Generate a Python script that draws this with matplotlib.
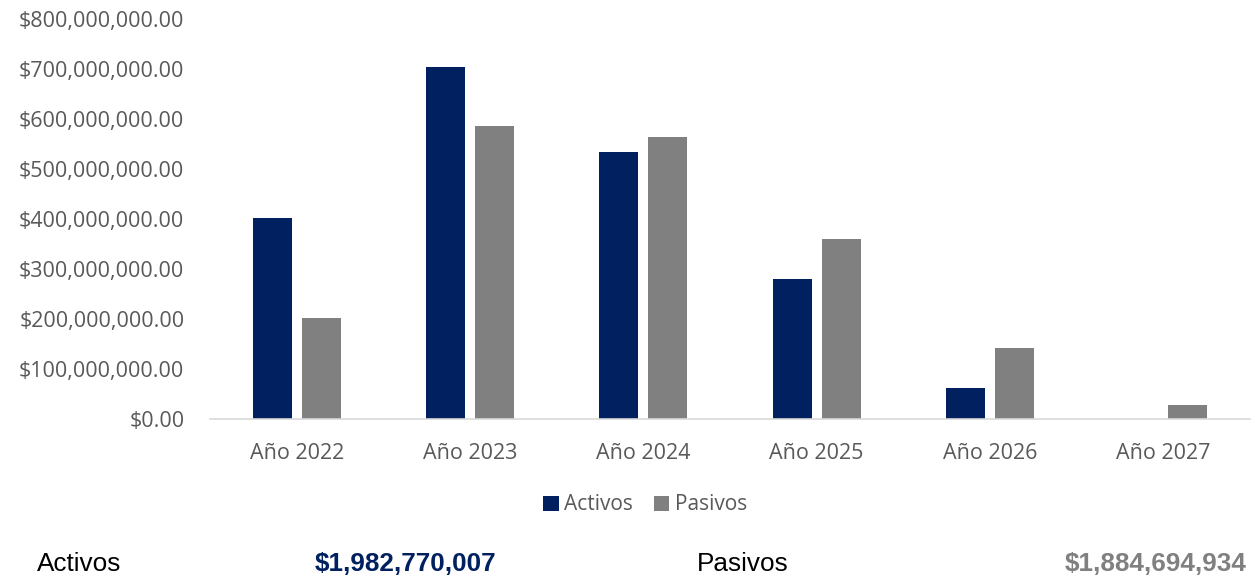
import matplotlib
matplotlib.use("Agg")
import matplotlib.pyplot as plt
import numpy as np
from matplotlib.ticker import FuncFormatter

categories = ["Año 2022", "Año 2023", "Año 2024", "Año 2025", "Año 2026", "Año 2027"]
activos = [402.5e6, 704e6, 534e6, 280.5e6, 61.8e6, 0]
pasivos = [203e6, 586e6, 565e6, 360e6, 142e6, 28.7e6]
yticks = [0, 100e6, 200e6, 300e6, 400e6, 500e6, 600e6, 700e6, 800e6]
total_activos = "$1,982,770,007"
total_pasivos = "$1,884,694,934"

NAVY = "#002060"
GRAY = "#808080"
TXT = "#595959"

plt.rcParams['font.family'] = ['Open Sans', 'DejaVu Sans']

fig = plt.figure(figsize=(12.56, 5.77), dpi=100)
ax = fig.add_axes([210/1256, 1-419/577, 1040/1256, 400/577])

x = np.arange(len(categories))
w = 0.225
gap = 0.058
ax.bar(x - (w + gap)/2, activos, width=w, color=NAVY, label="Activos")
ax.bar(x + (w + gap)/2, pasivos, width=w, color=GRAY, label="Pasivos")

ax.set_xlim(-0.5, len(categories) - 0.5)
ax.set_ylim(0, 800e6)
ax.set_yticks(yticks)
ax.yaxis.set_major_formatter(FuncFormatter(lambda v, p: f"${v:,.2f}"))
ax.set_xticks(x)
ax.set_xticklabels(categories)
ax.tick_params(axis='both', length=0, colors=TXT, labelsize=15.5)
ax.tick_params(axis='y', pad=18.5)
ax.tick_params(axis='x', pad=17)
for s in ["top", "right", "left"]:
    ax.spines[s].set_visible(False)
ax.spines["bottom"].set_color("#d9d9d9")
ax.spines["bottom"].set_linewidth(1.2)

leg = fig.legend(loc="center", bbox_to_anchor=(645/1256, 1-505/577), ncol=2, frameon=False,
                 fontsize=15, handlelength=0.75, handleheight=0.75, handletextpad=0.25, columnspacing=1.0)
for t in leg.get_texts():
    t.set_color(TXT)

bf = ['Liberation Sans Narrow', 'Liberation Sans']
fs = 18.8
fig.text(37/1256, 1-564/577, "Activos", family=bf, fontsize=fs, color="black", va="center", ha="left")
fig.text(315/1256, 1-564/577, total_activos, family=bf, fontsize=fs, color=NAVY, weight="bold", va="center", ha="left")
fig.text(697/1256, 1-564/577, "Pasivos", family=bf, fontsize=fs, color="black", va="center", ha="left")
fig.text(1247/1256, 1-564/577, total_pasivos, family=bf, fontsize=fs, color=GRAY, weight="bold", va="center", ha="right")

fig.savefig("out.png", dpi=100)
